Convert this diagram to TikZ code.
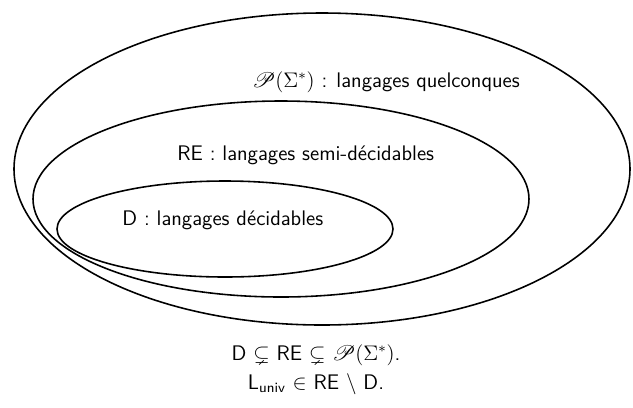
\documentclass[tikz,border=0pt]{standalone}
\usepackage{amsmath,amssymb}
\usepackage{mathrsfs}
\renewcommand{\familydefault}{\sfdefault}
\tikzset{
  setline/.style={line width=0.9pt},
  setlabel/.style={inner sep=0pt, anchor=west, font=\large\sffamily},
  formula/.style={inner sep=0pt, font=\large\sffamily}
}
\begin{document}
\begin{tikzpicture}[x=0.02cm,y=-0.02cm]
    \useasboundingbox (0,0) rectangle (633,407);
    %% the three sets
    \draw[setline] (322,169) ellipse (308 and 156);
    \draw[setline] (281,199) ellipse (248 and 98);
    \draw[setline] (225,229) ellipse (168 and 48);
    %% labels
    \node[setlabel] (all) at (252,82) {$\mathscr{P}(\Sigma^*)$ : langages quelconques};
    \node[setlabel] (re) at (177,155) {RE : langages semi-décidables};
    \node[setlabel] (dec) at (122,220) {D : langages décidables};
    %% below
    \node[formula] (incl) at (316,355) {D $\subsetneq$ RE $\subsetneq$ $\mathscr{P}(\Sigma^*)$.};
    \node[formula] (univ) at (316,384) {L$_{\textsf{univ}}$ $\in$ RE $\setminus$ D.};
\end{tikzpicture}
\end{document}
